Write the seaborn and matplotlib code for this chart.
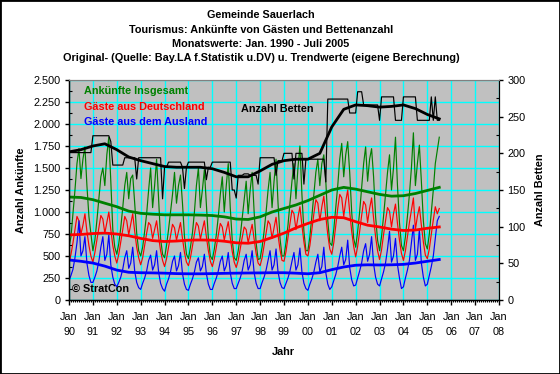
import numpy as np
import matplotlib
matplotlib.use("Agg")
import matplotlib.pyplot as plt
import seaborn as sns
from matplotlib.patches import Rectangle
from matplotlib.ticker import FuncFormatter, MultipleLocator

# monthly values Jan 1990 - Jul 2005, one row per year
total = [
    600, 720, 980, 1250, 1550, 1720, 1380, 1600, 1740, 1300, 950, 760,
    560, 680, 900, 1150, 1400, 1500, 1300, 1650, 1850, 1350, 800, 600,
    520, 640, 820, 1050, 1300, 1450, 1150, 1380, 1420, 1100, 760, 560,
    500, 600, 780, 980, 1250, 1500, 1050, 1300, 1600, 1150, 700, 520,
    480, 620, 800, 1000, 1200, 1450, 1100, 1300, 1420, 1100, 720, 520,
    470, 600, 760, 1000, 1300, 1500, 1050, 1250, 1480, 1080, 700, 500,
    460, 580, 740, 950, 1200, 1400, 1000, 1300, 1550, 1050, 680, 480,
    450, 560, 720, 930, 1150, 1350, 980, 1250, 1450, 1000, 650, 460,
    470, 600, 780, 1000, 1250, 1450, 1050, 1350, 1600, 1100, 700, 500,
    500, 650, 850, 1100, 1350, 1550, 1150, 1500, 1750, 1200, 780, 560,
    560, 720, 950, 1200, 1450, 1600, 1300, 1550, 1650, 1350, 900, 650,
    620, 800, 1050, 1300, 1600, 1780, 1400, 1650, 1800, 1450, 1000, 700,
    600, 780, 1000, 1280, 1550, 1740, 1350, 1600, 1720, 1400, 950, 680,
    560, 720, 950, 1200, 1450, 1650, 1250, 1500, 1850, 1300, 880, 620,
    560, 720, 950, 1200, 1500, 1900, 1300, 1550, 1760, 1350, 900, 640,
    580, 750, 1000, 1250, 1550, 1700, 1850,
]
germany = [
    420, 520, 650, 800, 950, 900, 750, 850, 980, 780, 620, 500,
    430, 540, 680, 820, 960, 920, 760, 880, 1000, 800, 620, 500,
    420, 520, 660, 800, 950, 900, 740, 860, 980, 780, 600, 480,
    400, 480, 620, 760, 880, 850, 700, 800, 900, 720, 560, 450,
    380, 470, 600, 730, 860, 820, 680, 780, 880, 700, 540, 430,
    390, 480, 610, 750, 880, 840, 690, 800, 900, 720, 560, 440,
    380, 470, 600, 740, 870, 830, 680, 790, 890, 710, 550, 430,
    370, 450, 580, 710, 830, 800, 650, 760, 860, 690, 530, 420,
    390, 480, 620, 760, 900, 860, 700, 820, 940, 740, 570, 450,
    440, 550, 710, 870, 1020, 980, 800, 940, 1060, 850, 660, 520,
    500, 620, 800, 980, 1140, 1100, 900, 1060, 1180, 950, 740, 580,
    520, 650, 840, 1040, 1200, 1160, 950, 1120, 1250, 1000, 780, 610,
    490, 610, 780, 960, 1120, 1080, 880, 1040, 1160, 930, 720, 560,
    460, 570, 740, 900, 1050, 1010, 830, 980, 1090, 870, 680, 530,
    450, 560, 720, 880, 1020, 1160, 800, 950, 1060, 850, 660, 510,
    470, 580, 750, 910, 1060, 980, 1040,
]
abroad = [
    220, 280, 350, 480, 650, 900, 500, 560, 720, 420, 280, 200,
    200, 260, 330, 440, 600, 720, 450, 520, 740, 400, 260, 180,
    150, 200, 260, 350, 480, 560, 360, 420, 600, 330, 200, 140,
    120, 190, 250, 330, 450, 510, 340, 400, 560, 320, 190, 130,
    100, 180, 240, 320, 440, 500, 330, 390, 540, 300, 180, 120,
    110, 180, 240, 320, 430, 480, 330, 380, 520, 300, 180, 120,
    120, 190, 250, 330, 440, 500, 330, 390, 540, 310, 190, 130,
    130, 190, 250, 330, 450, 520, 340, 400, 560, 310, 190, 130,
    130, 200, 260, 340, 450, 560, 340, 400, 580, 320, 200, 140,
    130, 190, 250, 330, 440, 540, 340, 400, 590, 320, 190, 130,
    110, 180, 240, 320, 430, 520, 320, 380, 600, 310, 180, 120,
    150, 220, 290, 380, 500, 600, 400, 460, 680, 370, 230, 160,
    170, 250, 330, 420, 560, 640, 440, 520, 720, 410, 260, 180,
    160, 240, 320, 420, 580, 780, 430, 500, 700, 400, 250, 130,
    150, 250, 340, 450, 650, 850, 450, 520, 800, 420, 260, 160,
    180, 280, 380, 500, 700, 900, 950,
]
beds = [
    201, 201, 201, 201, 201, 201, 201, 201, 201, 201, 201, 201,
    224, 224, 224, 224, 224, 224, 224, 224, 224, 216, 184, 184,
    184, 184, 184, 184, 194, 194, 194, 194, 194, 194, 165, 194,
    194, 194, 194, 194, 194, 194, 194, 194, 194, 194, 194, 138,
    181, 181, 188, 188, 188, 188, 188, 188, 188, 181, 152, 181,
    188, 188, 188, 188, 188, 188, 188, 188, 188, 164, 181, 181,
    188, 188, 188, 188, 188, 188, 188, 188, 188, 188, 150, 150,
    139, 170, 170, 170, 172, 172, 172, 170, 170, 170, 170, 158,
    194, 194, 194, 194, 194, 194, 194, 194, 170, 190, 190, 190,
    200, 200, 200, 200, 200, 165, 200, 200, 200, 200, 158, 192,
    192, 192, 192, 192, 192, 192, 192, 192, 192, 161, 274, 274,
    274, 274, 274, 274, 274, 274, 274, 274, 274, 255, 255, 255,
    255, 284, 284, 284, 266, 266, 266, 266, 266, 266, 266, 266,
    245, 277, 277, 277, 277, 277, 277, 277, 245, 245, 245, 245,
    277, 277, 277, 277, 277, 277, 277, 245, 245, 245, 245, 245,
    245, 245, 277, 245, 277, 245, 245,
]

# trend values every half year (Jan / Jul), 1990 - Jul 2005
trend_total = [1170, 1165, 1140, 1100, 1060, 1010, 985, 975, 968, 968, 968, 965,
               960, 945, 920, 915, 945, 1000, 1040, 1080, 1130, 1190, 1250, 1280,
               1260, 1230, 1200, 1180, 1185, 1210, 1245, 1280]
trend_germany = [740, 745, 755, 760, 750, 730, 700, 675, 665, 670, 680, 682,
                 680, 668, 650, 645, 665, 710, 760, 820, 870, 915, 940, 935,
                 890, 850, 830, 805, 790, 795, 815, 830]
trend_abroad = [455, 440, 420, 385, 340, 315, 310, 308, 305, 300, 298, 298,
                300, 303, 305, 307, 308, 310, 310, 305, 298, 310, 345, 375,
                395, 400, 398, 400, 405, 420, 440, 460]
trend_beds = [202, 205, 210, 213, 205, 195, 190, 186, 182, 181, 181, 181,
              179, 174, 168, 168, 176, 185, 190, 192, 192, 200, 236, 260,
              266, 265, 263, 264, 266, 261, 253, 247]

year_labels = ["90", "91", "92", "93", "94", "95", "96", "97", "98",
               "99", "00", "01", "02", "03", "04", "05", "06", "07", "08"]

t = 1990 + np.arange(len(total)) / 12
t_trend = 1990 + np.arange(len(trend_total)) / 2

plt.rcParams['font.family'] = ['Liberation Sans', 'DejaVu Sans']
plt.rcParams['font.size'] = 7.8

fig = plt.figure(figsize=(5.6, 3.74), dpi=100)
ax = fig.add_axes([69 / 560, 1 - 300 / 374, 430 / 560, 220 / 374])
ax.set_facecolor('#C0C0C0')

GREEN, RED, BLUE = '#008000', '#FF0000', '#0000FF'
THIN, THICK = 0.85, 2.0

sns.lineplot(x=t, y=total, ax=ax, color=GREEN, lw=THIN)
sns.lineplot(x=t, y=germany, ax=ax, color=RED, lw=THIN)
sns.lineplot(x=t, y=abroad, ax=ax, color=BLUE, lw=THIN)
sns.lineplot(x=t_trend, y=trend_total, ax=ax, color=GREEN, lw=THICK)
sns.lineplot(x=t_trend, y=trend_germany, ax=ax, color=RED, lw=THICK)
sns.lineplot(x=t_trend, y=trend_abroad, ax=ax, color=BLUE, lw=THICK)

ax.set_xlim(1990, 2008)
ax.set_ylim(0, 2500)
ax.set_xticks(np.arange(1990, 2009))
ax.set_xticklabels([f"Jan\n{y}" for y in year_labels], linespacing=1.65)
ax.xaxis.set_minor_locator(MultipleLocator(1 / 12))
ax.yaxis.set_major_locator(MultipleLocator(250))
ax.yaxis.set_minor_locator(MultipleLocator(125))
ax.yaxis.set_major_formatter(FuncFormatter(lambda v, p: f"{int(v):,}".replace(",", ".")))
ax.grid(True, which='major', color='#00FFFF', lw=1)
ax.set_axisbelow(True)
ax.tick_params(axis='x', which='major', length=3.5, width=1, pad=5, direction='out')
ax.tick_params(axis='x', which='minor', length=1.5, width=0.8, direction='out')
ax.tick_params(axis='y', which='major', length=3, width=1, pad=3, direction='out')
ax.tick_params(axis='y', which='minor', length=2, width=0.8, direction='in')
for s in ['left', 'bottom']:
    ax.spines[s].set_color('black')
    ax.spines[s].set_linewidth(1)
ax.spines['top'].set_color('#808080')
ax.set_xlabel('')
ax.set_ylabel('')

ax2 = ax.twinx()
sns.lineplot(x=t, y=beds, ax=ax2, color='black', lw=THIN)
sns.lineplot(x=t_trend, y=trend_beds, ax=ax2, color='black', lw=THICK)
ax2.set_ylim(0, 300)
ax2.set_xlim(1990, 2008)
ax2.yaxis.set_major_locator(MultipleLocator(50))
ax2.yaxis.set_minor_locator(MultipleLocator(25))
ax2.tick_params(axis='y', which='major', length=3, width=1, pad=3, direction='out')
ax2.tick_params(axis='y', which='minor', length=2, width=0.8, direction='in')
ax2.spines['right'].set_color('black')
ax2.spines['top'].set_color('#808080')
ax2.set_ylabel('')
ax2.grid(False)

# titles
titles = ["Gemeinde Sauerlach",
          "Tourismus: Ankünfte von Gästen und Bettenanzahl",
          "Monatswerte: Jan. 1990 - Juli 2005",
          "Original- (Quelle: Bay.LA f.Statistik u.DV) u. Trendwerte (eigene Berechnung)"]
for ypix, txt in zip([15, 30, 44, 58], titles):
    fig.text(261 / 560, 1 - ypix / 374, txt, ha='center', va='center', fontweight='bold')

fig.text(21 / 560, 1 - 190 / 374, "Anzahl Ankünfte", rotation=90, ha='center', va='center', fontweight='bold')
fig.text(540 / 560, 1 - 190 / 374, "Anzahl Betten", rotation=90, ha='center', va='center', fontweight='bold')
fig.text(283 / 560, 1 - 352 / 374, "Jahr", ha='center', va='center', fontweight='bold')

# in-plot labels
fig.text(84 / 560, 1 - 91 / 374, "Ankünfte Insgesamt", color=GREEN, va='center', fontweight='bold')
fig.text(84 / 560, 1 - 107 / 374, "Gäste aus Deutschland", color=RED, va='center', fontweight='bold')
fig.text(84 / 560, 1 - 122 / 374, "Gäste aus dem Ausland", color=BLUE, va='center', fontweight='bold')
fig.text(241 / 560, 1 - 109 / 374, "Anzahl Betten", color='black', va='center', fontweight='bold')
fig.text(72 / 560, 1 - 289 / 374, "© StratCon", color='black', va='center', fontweight='bold')

fig.add_artist(Rectangle((0, 0), 1, 1, transform=fig.transFigure, fill=False, ec='black', lw=2))

fig.savefig('out.png', dpi=100, facecolor='white')
